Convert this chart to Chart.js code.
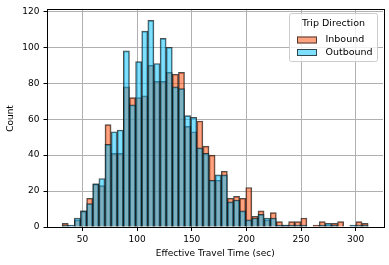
<!DOCTYPE html>
<html>
<head>
<meta charset="utf-8">
<script src="https://cdn.jsdelivr.net/npm/chart.js@4.4.1/dist/chart.umd.min.js"></script>
<style>
  html, body { margin: 0; padding: 0; background: #fff; }
</style>
</head>
<body>
<canvas id="chart" width="389" height="265"></canvas>
<script>
// histogram bins (sec) and counts per trip direction
const binStart = 31.4;
const binWidth = 5.6;
const inbound = [2, 0, 4, 9, 16, 24, 23, 57, 41, 41, 78, 72, 72, 73, 90, 81, 81, 86, 85, 86,
                 56, 53, 59, 45, 40, 26, 31, 16, 17, 16, 22, 6, 9, 4, 8, 3, 1, 3, 3, 5,
                 0, 1, 3, 1, 2, 3, 0, 0, 3, 2];
const outbound = [1, 1, 5, 9, 13, 24, 27, 46, 53, 54, 98, 68, 92, 109, 115, 91, 105, 100, 78, 77,
                  62, 61, 44, 41, 26, 29, 29, 14, 15, 9, 4, 5, 7, 5, 5, 1, 1, 1, 1, 1,
                  0, 0, 1, 2, 1, 0, 0, 1, 1, 1];
const xTicks = [50, 100, 150, 200, 250, 300];
const yTicks = [0, 20, 40, 60, 80, 100, 120];

const binCenters = inbound.map((_, i) => binStart + binWidth * (i + 0.5));

const inColor = 'rgba(255, 69, 0, 0.5)';
const outColor = 'rgba(0, 191, 255, 0.5)';
const edgeColor = 'rgba(20, 20, 20, 0.75)';

Chart.defaults.font.family = 'DejaVu Sans';
Chart.defaults.font.size = 9;
Chart.defaults.color = '#000';

// matplotlib style frame + legend inside the axes
const framePlugin = {
  id: 'frame',
  afterDraw(chart) {
    const { ctx, chartArea: a } = chart;
    ctx.save();
    ctx.strokeStyle = '#000';
    ctx.lineWidth = 1;
    ctx.strokeRect(Math.round(a.left) - 0.5, Math.round(a.top) - 0.5,
                   Math.round(a.right - a.left) + 1, Math.round(a.bottom - a.top) + 1);

    // legend box
    const lx = 289.5, ly = 13.5, lw = 88, lh = 48;
    ctx.beginPath();
    ctx.roundRect(lx, ly, lw, lh, 2);
    ctx.fillStyle = 'rgba(255,255,255,0.8)';
    ctx.fill();
    ctx.strokeStyle = '#cccccc';
    ctx.stroke();

    ctx.fillStyle = '#000';
    ctx.font = '9.5px "DejaVu Sans"';
    ctx.textBaseline = 'middle';
    ctx.textAlign = 'center';
    ctx.fillText('Trip Direction', lx + lw / 2, 23.5);

    const items = [
      { label: chart.data.datasets[0].label, color: chart.data.datasets[0].backgroundColor, y: 40 },
      { label: chart.data.datasets[1].label, color: chart.data.datasets[1].backgroundColor, y: 52.5 }
    ];
    ctx.textAlign = 'left';
    items.forEach(it => {
      ctx.fillStyle = '#fff';
      ctx.fillRect(297, it.y - 3.5, 20, 7);
      ctx.fillStyle = it.color;
      ctx.fillRect(297, it.y - 3.5, 20, 7);
      ctx.strokeStyle = edgeColor;
      ctx.strokeRect(297.5, it.y - 3, 19, 6);
      ctx.fillStyle = '#000';
      ctx.fillText(it.label, 325.5, it.y);
    });
    ctx.restore();
  }
};

new Chart(document.getElementById('chart').getContext('2d'), {
  type: 'bar',
  data: {
    datasets: [
      {
        label: 'Inbound',
        data: binCenters.map((x, i) => ({ x: x, y: inbound[i] })),
        backgroundColor: inColor,
        borderColor: edgeColor,
        borderWidth: 1,
        order: 1
      },
      {
        label: 'Outbound',
        data: binCenters.map((x, i) => ({ x: x, y: outbound[i] })),
        backgroundColor: outColor,
        borderColor: edgeColor,
        borderWidth: 1,
        order: 0
      }
    ]
  },
  options: {
    responsive: false,
    animation: false,
    grouped: false,
    barPercentage: 1,
    categoryPercentage: 1,
    layout: { padding: { top: 10, right: 6, left: 0, bottom: 0 } },
    plugins: {
      legend: { display: false },
      tooltip: { enabled: false }
    },
    scales: {
      x: {
        type: 'linear',
        min: 18,
        max: 325,
        offset: false,
        afterBuildTicks: s => { s.ticks = xTicks.map(v => ({ value: v })); },
        afterFit: s => { s.height = 38; },
        grid: { color: '#b0b0b0', tickColor: '#000', tickLength: 4, offset: false },
        border: { color: '#000' },
        ticks: { padding: 3, maxRotation: 0 },
        title: { display: true, text: 'Effective Travel Time (sec)', padding: { top: 0, bottom: 6 } }
      },
      y: {
        min: 0,
        max: 120.75,
        afterBuildTicks: s => { s.ticks = yTicks.map(v => ({ value: v })); },
        afterFit: s => { s.width = 47.5; },
        grid: { color: '#b0b0b0', tickColor: '#000', tickLength: 4 },
        border: { color: '#000' },
        ticks: { padding: 4 },
        title: { display: true, text: 'Count', padding: { top: 5, bottom: 0 } }
      }
    }
  },
  plugins: [framePlugin]
});
</script>
</body>
</html>
